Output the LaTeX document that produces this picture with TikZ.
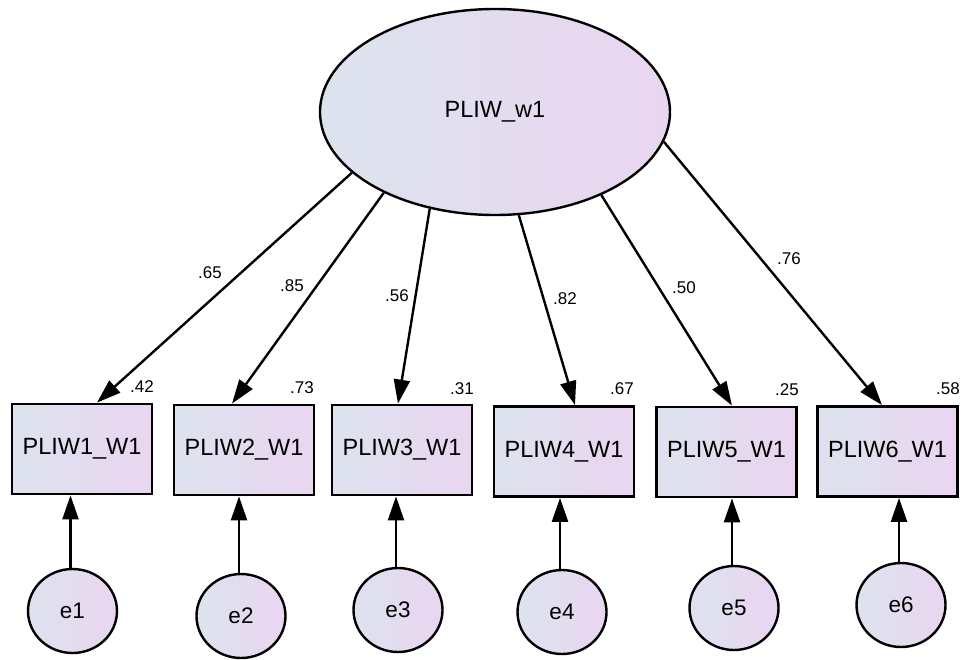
\documentclass[tikz,border=0pt]{standalone}
\usepackage{fontspec}
\setmainfont{Liberation Sans}
\usetikzlibrary{arrows.meta,shapes.geometric}
\definecolor{gl}{RGB}{220,227,238}
\definecolor{gr}{RGB}{234,213,240}
\begin{document}
\begin{tikzpicture}[x=1pt,y=-1pt,
 grad/.style={left color=gl,right color=gr,draw=black},
 latent/.style={grad,ellipse,line width=2.4pt,minimum width=350pt,minimum height=206pt,inner sep=0pt,font=\fontsize{23.5}{28}\selectfont},
 obs/.style={grad,rectangle,line width=2.8pt,minimum width=140pt,minimum height=90pt,inner sep=0pt,font=\fontsize{23.5}{28}\selectfont},
 err/.style={grad,ellipse,line width=2.4pt,minimum width=89pt,minimum height=84pt,inner sep=0pt,font=\fontsize{22.5}{26}\selectfont},
 conn/.style={line width=2.4pt,-{Triangle[length=24pt,width=16pt]}},
 coef/.style={font=\fontsize{17}{20}\selectfont,inner sep=0pt}
]
\useasboundingbox (0,0) rectangle (968,660);

\node[latent] (L) at (495,112) {PLIW\_w1};

\node[obs] (b1) at (82,449) {PLIW1\_W1};
\node[obs] (b2) at (244,450) {PLIW2\_W1};
\node[obs] (b3) at (402,450) {PLIW3\_W1};
\node[obs] (b4) at (564,451.5) {PLIW4\_W1};
\node[obs] (b5) at (726.5,452) {PLIW5\_W1};
\node[obs] (b6) at (887.5,451.5) {PLIW6\_W1};

\node[err] (e1) at (72.5,611) {e1};
\node[err] (e2) at (241,616) {e2};
\node[err] (e3) at (398,610) {e3};
\node[err] (e4) at (562,612) {e4};
\node[err] (e5) at (734,608) {e5};
\node[err] (e6) at (901,605) {e6};

\draw[conn] (L.203) -- ([xshift=15pt]b1.north);
\draw[conn] (L.216) -- ([xshift=-12pt]b2.north);
\draw[conn] (L.236) -- ([xshift=-4pt]b3.north);
\draw[conn] (L.283) -- ([xshift=11pt]b4.north);
\draw[conn] (L.322) -- ([xshift=5.5pt]b5.north);
\draw[conn] (L.350) -- ([xshift=-5.5pt]b6.north);

\foreach \i in {1,...,6}{
  \draw[conn] ([xshift=-2pt]e\i.north) -- ([xshift=-2pt]e\i.north |- b\i.south);
}

\node[coef] (c1) at (210,273) {.65};
\node[coef] (c2) at (292,286) {.85};
\node[coef] (c3) at (397,296) {.56};
\node[coef] (c4) at (565,299) {.82};
\node[coef] (c5) at (684,288) {.50};
\node[coef] (c6) at (789,259) {.76};

\node[coef] (r1) at (142,387) {.42};
\node[coef] (r2) at (302,388) {.73};
\node[coef] (r3) at (462,389) {.31};
\node[coef] (r4) at (622,389) {.67};
\node[coef] (r5) at (787,390) {.25};
\node[coef] (r6) at (948,389) {.58};
\end{tikzpicture}
\end{document}
